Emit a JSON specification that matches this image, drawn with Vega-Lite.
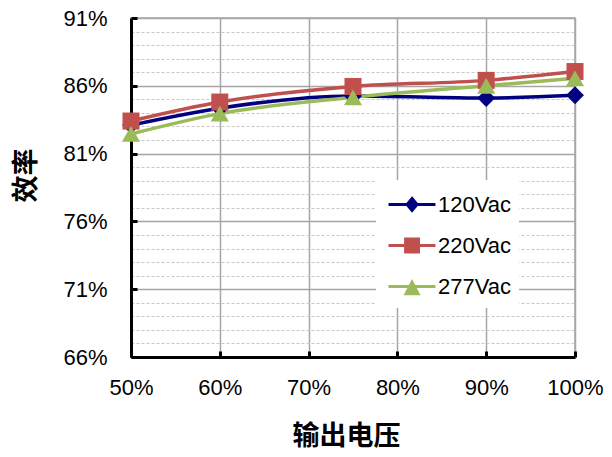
{
  "$schema": "https://vega.github.io/schema/vega-lite/v6.json",
  "autosize": "none",
  "width": 444,
  "height": 339,
  "padding": {"left": 131, "top": 18, "right": 37, "bottom": 100},
  "background": "white",
  "config": {
    "view": {"stroke": "#A6A6A6", "strokeWidth": 1.5},
    "font": "Liberation Sans"
  },
  "data": {
    "values": [
      {"series": "120Vac", "load": 0.5, "eff": 0.831},
      {"series": "120Vac", "load": 0.6, "eff": 0.8435},
      {"series": "120Vac", "load": 0.75, "eff": 0.8525},
      {"series": "120Vac", "load": 0.9, "eff": 0.851},
      {"series": "120Vac", "load": 1.0, "eff": 0.853},
      {"series": "220Vac", "load": 0.5, "eff": 0.834},
      {"series": "220Vac", "load": 0.6, "eff": 0.848},
      {"series": "220Vac", "load": 0.75, "eff": 0.8595},
      {"series": "220Vac", "load": 0.9, "eff": 0.864},
      {"series": "220Vac", "load": 1.0, "eff": 0.8705},
      {"series": "277Vac", "load": 0.5, "eff": 0.8245},
      {"series": "277Vac", "load": 0.6, "eff": 0.8395},
      {"series": "277Vac", "load": 0.75, "eff": 0.8515},
      {"series": "277Vac", "load": 0.9, "eff": 0.86},
      {"series": "277Vac", "load": 1.0, "eff": 0.8655}
    ]
  },
  "encoding": {
    "x": {
      "field": "load",
      "type": "quantitative",
      "scale": {"domain": [0.5, 1.0], "nice": false, "zero": false},
      "axis": {
        "values": [0.5, 0.6, 0.7, 0.8, 0.9, 1.0],
        "format": ".0%",
        "title": "输出电压",
        "titleFont": "Noto Sans CJK SC",
        "titleFontWeight": "bold",
        "titleFontSize": 27,
        "titleColor": "black",
        "titleX": 215,
        "titleY": 79,
        "titleBaseline": "middle",
        "titleAlign": "center",
        "labelFontSize": 22,
        "labelColor": "black",
        "labelPadding": 26,
        "labelOverlap": false,
        "labelFlush": false,
        "domainColor": "black",
        "domainWidth": 3,
        "tickColor": "black",
        "tickWidth": 3,
        "tickSize": -6,
        "grid": true,
        "gridColor": "#A6A6A6",
        "gridWidth": 1.5
      }
    },
    "y": {
      "field": "eff",
      "type": "quantitative",
      "scale": {"domain": [0.66, 0.91], "nice": false, "zero": false},
      "axis": {
        "values": [0.66, 0.67, 0.68, 0.69, 0.70, 0.71, 0.72, 0.73, 0.74, 0.75, 0.76, 0.77, 0.78, 0.79, 0.80, 0.81, 0.82, 0.83, 0.84, 0.85, 0.86, 0.87, 0.88, 0.89, 0.90, 0.91],
        "format": ".0%",
        "labelExpr": "round(datum.value*100) % 5 == 1 ? datum.label : ''",
        "title": "效率",
        "titleFont": "Noto Sans CJK SC",
        "titleFontWeight": "bold",
        "titleFontSize": 27,
        "titleColor": "black",
        "titleAngle": -90,
        "titleX": -105,
        "titleY": 157,
        "titleBaseline": "middle",
        "titleAlign": "center",
        "labelFontSize": 22,
        "labelColor": "black",
        "labelPadding": 30,
        "labelOverlap": false,
        "labelFlush": false,
        "domainColor": "black",
        "domainWidth": 3,
        "tickColor": "black",
        "tickWidth": 3,
        "tickSize": -6,
        "tickOpacity": {"condition": {"test": "round(datum.value*100) % 5 == 1", "value": 1}, "value": 0},
        "grid": true,
        "gridColor": {"condition": {"test": "round(datum.value*100) % 5 == 1", "value": "#A6A6A6"}, "value": "#C8C8C8"},
        "gridWidth": {"condition": {"test": "round(datum.value*100) % 5 == 1", "value": 1.5}, "value": 1},
        "gridDash": {"condition": {"test": "round(datum.value*100) % 5 == 1", "value": []}, "value": [3, 2]}
      }
    },
    "color": {
      "field": "series",
      "type": "nominal",
      "scale": {"domain": ["120Vac", "220Vac", "277Vac"], "range": ["#000080", "#C0504D", "#9BBB59"]},
      "legend": {
        "title": null,
        "orient": "none",
        "legendX": 245,
        "legendY": 162,
        "padding": 8,
        "fillColor": "white",
        "labelFontSize": 22,
        "labelColor": "black",
        "labelOffset": 21,
        "symbolSize": 900,
        "symbolStrokeWidth": 3,
        "rowPadding": 12,
        "encode": {
          "symbols": {
            "update": {
              "shape": {"signal": "datum.value == '120Vac' ? 'M-0.8,0H2.33M0.77,-0.4L1.1,0L0.77,0.4L0.44,0Z' : datum.value == '220Vac' ? 'M-0.8,0H2.33M0.34,-0.43H1.2V0.43H0.34Z' : 'M-0.8,0H2.33M0.77,-0.28L1.17,0.48H0.37Z'"},
              "fill": {"signal": "datum.value == '120Vac' ? '#000080' : datum.value == '220Vac' ? '#C0504D' : '#9BBB59'"},
              "stroke": {"signal": "datum.value == '120Vac' ? '#000080' : datum.value == '220Vac' ? '#C0504D' : '#9BBB59'"},
              "strokeWidth": {"value": 3},
              "opacity": {"value": 1}
            }
          }
        }
      }
    }
  },
  "layer": [
    {
      "mark": {"type": "line", "interpolate": "monotone", "strokeWidth": 3.5}
    },
    {
      "transform": [{"filter": "datum.series == '120Vac'"}],
      "mark": {"type": "point", "filled": true, "size": 320, "opacity": 1, "shape": "diamond"}
    },
    {
      "transform": [{"filter": "datum.series == '220Vac'"}],
      "mark": {"type": "point", "filled": true, "size": 290, "opacity": 1, "shape": "square"}
    },
    {
      "transform": [{"filter": "datum.series == '277Vac'"}],
      "mark": {"type": "point", "filled": true, "size": 330, "opacity": 1, "shape": "triangle-up"}
    }
  ]
}
